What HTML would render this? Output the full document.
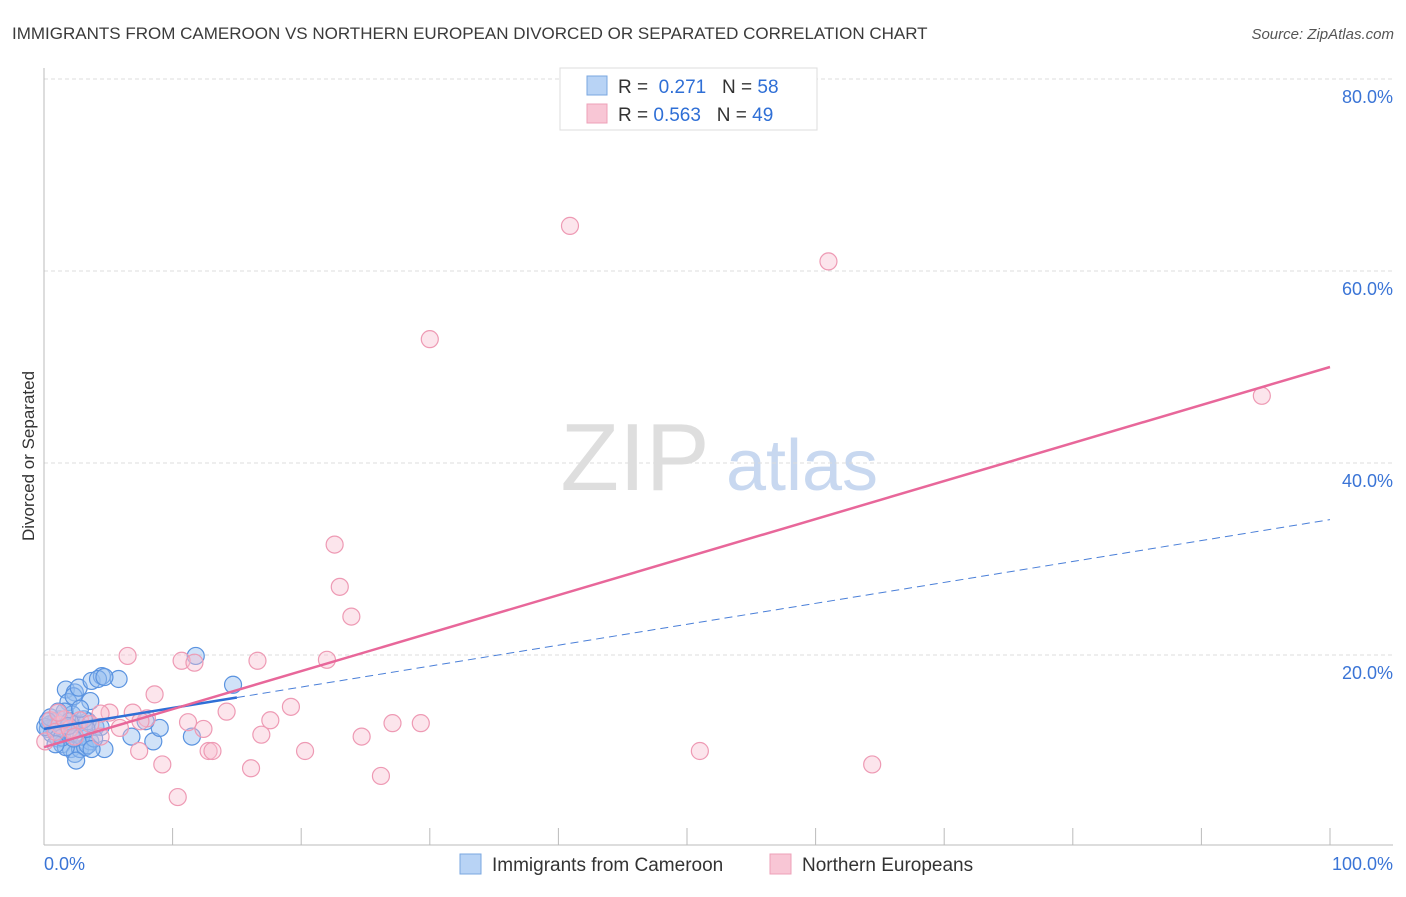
<!DOCTYPE html>
<html><head><meta charset="utf-8"><style>
body{margin:0;background:#fff;font-family:"Liberation Sans",sans-serif;}
svg text{font-family:"Liberation Sans",sans-serif;}
</style></head><body>
<svg id="chart" width="1406" height="892" xmlns="http://www.w3.org/2000/svg">
<text x="12" y="39" font-size="17" fill="#3a3a3a">IMMIGRANTS FROM CAMEROON VS NORTHERN EUROPEAN DIVORCED OR SEPARATED CORRELATION CHART</text>
<text x="1394" y="39" font-size="15" fill="#555" text-anchor="end" font-style="italic">Source: ZipAtlas.com</text>
<text transform="translate(34,456) rotate(-90)" font-size="17" fill="#333" text-anchor="middle">Divorced or Separated</text>
<g>
<text x="635" y="490" font-size="96" fill="#dedede" text-anchor="middle" font-family="Liberation Serif,serif">ZIP</text>
<text x="802" y="490" font-size="72" fill="#c8d8f0" text-anchor="middle">atlas</text>
</g>
<g id="grid"></g><g id="axes"></g><g id="pts"></g><g id="lines"></g>
<g>
<rect x="560" y="68" width="257" height="62" fill="#fff" stroke="#ddd"/>
<rect x="587" y="76" width="20" height="19" fill="#b8d3f5" stroke="#7aa7e0"/>
<rect x="587" y="104" width="20" height="19" fill="#f8c6d5" stroke="#eea0b8"/>
<text x="618" y="93" font-size="19" fill="#333">R = <tspan fill="#2f6fd6">&#160;0.271</tspan>&#160;&#160;&#160;N = <tspan fill="#2f6fd6">58</tspan></text>
<text x="618" y="121" font-size="19" fill="#333">R = <tspan fill="#2f6fd6">0.563</tspan>&#160;&#160;&#160;N = <tspan fill="#2f6fd6">49</tspan></text>
</g>
<g>
<rect x="460" y="854" width="21" height="20" fill="#b8d3f5" stroke="#7aa7e0"/>
<text x="492" y="871" font-size="19" fill="#333">Immigrants from Cameroon</text>
<rect x="770" y="854" width="21" height="20" fill="#f8c6d5" stroke="#eea0b8"/>
<text x="802" y="871" font-size="19" fill="#333">Northern Europeans</text>
</g>
</svg>
<script>
const yTicks=[20,40,60,80];
const yTickLabels=["20.0%","40.0%","60.0%","80.0%"];
const xTickLabels=["0.0%","100.0%"];
const blueX=[1.7,2.4,1.9,2.3,2.7,3.7,4.5,4.2,5.8,4.7,14.7,11.8,3.6,0.9,1.2,0.5,0.3,0.6,1.1,1.4,2.1,2.4,2.8,3.2,3.6,4.0,3.4,2.2,1.6,2.6,2.1,4.7,2.5,6.8,8.5,9.0,11.5,7.9,1.5,0.9,0.1,0.5,1.1,2.9,3.4,1.7,4.4,3.1,3.9,1.4,2.0,0.9,0.3,2.8,3.3,2.3,1.9,3.7];
const blueY=[16.4,16.1,15.1,15.7,16.6,17.3,17.8,17.5,17.5,17.7,16.9,19.9,15.2,13.1,13.3,12.8,12.3,11.8,11.3,10.7,10.2,9.7,10.2,10.4,11.0,12.5,13.1,13.8,14.1,12.8,11.8,10.2,9.0,11.5,11.0,12.4,11.5,13.1,12.3,12.5,12.5,13.5,14.1,11.5,10.6,10.4,12.5,13.3,11.3,11.4,13.1,10.7,13.1,14.4,12.3,11.3,12.6,10.2];
const pinkX=[40.9,61.0,30.0,94.7,22.6,23.0,23.9,6.5,16.6,10.7,11.7,22.0,8.6,14.2,19.2,6.9,5.1,4.4,8.0,11.2,12.4,17.6,27.1,29.3,16.9,24.7,20.3,7.4,12.8,13.1,9.2,16.1,26.2,10.4,51.0,64.4,0.5,1.2,0.1,0.9,2.0,2.8,3.6,5.9,4.4,7.5,1.6,2.4,1.1];
const pinkY=[64.7,61.0,52.9,47.0,31.5,27.1,24.0,19.9,19.4,19.4,19.2,19.5,15.9,14.1,14.6,14.0,14.0,13.9,13.4,13.0,12.3,13.2,12.9,12.9,11.7,11.5,10.0,10.0,10.0,10.0,8.6,8.2,7.4,5.2,10.0,8.6,13.2,12.7,11.0,12.0,12.3,13.2,12.8,12.4,11.5,13.1,13.3,11.5,14.0];
const pinkTrend=[10.4,50.0];
const blueTrend=[12.3,34.1];
const blueSolidEnd=15;
const NS="http://www.w3.org/2000/svg";
const X0=44,X1=1330,Y0=847,PY=9.6;
const sx=v=>X0+(X1-X0)*v/100, sy=v=>Y0-PY*v;
function mk(t,a,p){const e=document.createElementNS(NS,t);for(const k in a)e.setAttribute(k,a[k]);document.getElementById(p).appendChild(e);return e;}
yTicks.forEach((t,i)=>{
 const g=mk('line',{x1:44,x2:1393,y1:sy(t),y2:sy(t),stroke:'#ddd','stroke-dasharray':'4,3'},'grid');
 
 
 const l=mk('text',{x:1393,y:sy(t)+24,'font-size':18,fill:'#3a74d6','text-anchor':'end'},'grid');
 l.textContent=yTickLabels[i];
 
 
});
const ax=mk('line',{x1:44,x2:1393,y1:845,y2:845,stroke:'#bbb'},'axes');


const ay=mk('line',{x1:44,x2:44,y1:68,y2:845,stroke:'#bbb'},'axes');


for(let i=0;i<=10;i++){
 const t=mk('line',{x1:sx(i*10),x2:sx(i*10),y1:828,y2:845,stroke:'#bbb'},'axes');
 
 
}
[[0,'start',44],[1,'end',1393]].forEach(([i,a,x])=>{
 const l=mk('text',{x:x,y:870,'font-size':18,fill:'#3a74d6','text-anchor':a},'axes');
 l.textContent=xTickLabels[i];
 
 
});
blueX.forEach((x,i)=>{
 const c=mk('circle',{cx:sx(x),cy:sy(blueY[i]),r:8.5,fill:'rgba(150,190,240,0.45)',stroke:'#5a93e0','stroke-width':1.2},'pts');
 
 
});
pinkX.forEach((x,i)=>{
 const c=mk('circle',{cx:sx(x),cy:sy(pinkY[i]),r:8.5,fill:'rgba(248,190,208,0.4)',stroke:'#ee9ab4','stroke-width':1.2},'pts');
 
 
});
const bt=x=>blueTrend[0]+(blueTrend[1]-blueTrend[0])*x/100;
const l1=mk('line',{x1:sx(0),y1:sy(bt(0)),x2:sx(blueSolidEnd),y2:sy(bt(blueSolidEnd)),stroke:'#2f6fd6','stroke-width':2.5},'lines');


const l2=mk('line',{x1:sx(blueSolidEnd),y1:sy(bt(blueSolidEnd)),x2:sx(100),y2:sy(bt(100)),stroke:'#4a7fd8','stroke-width':1,'stroke-dasharray':'8,5'},'lines');


const l3=mk('line',{x1:sx(0),y1:sy(pinkTrend[0]),x2:sx(100),y2:sy(pinkTrend[1]),stroke:'#e8679a','stroke-width':2.5},'lines');


</script>
</body></html>
